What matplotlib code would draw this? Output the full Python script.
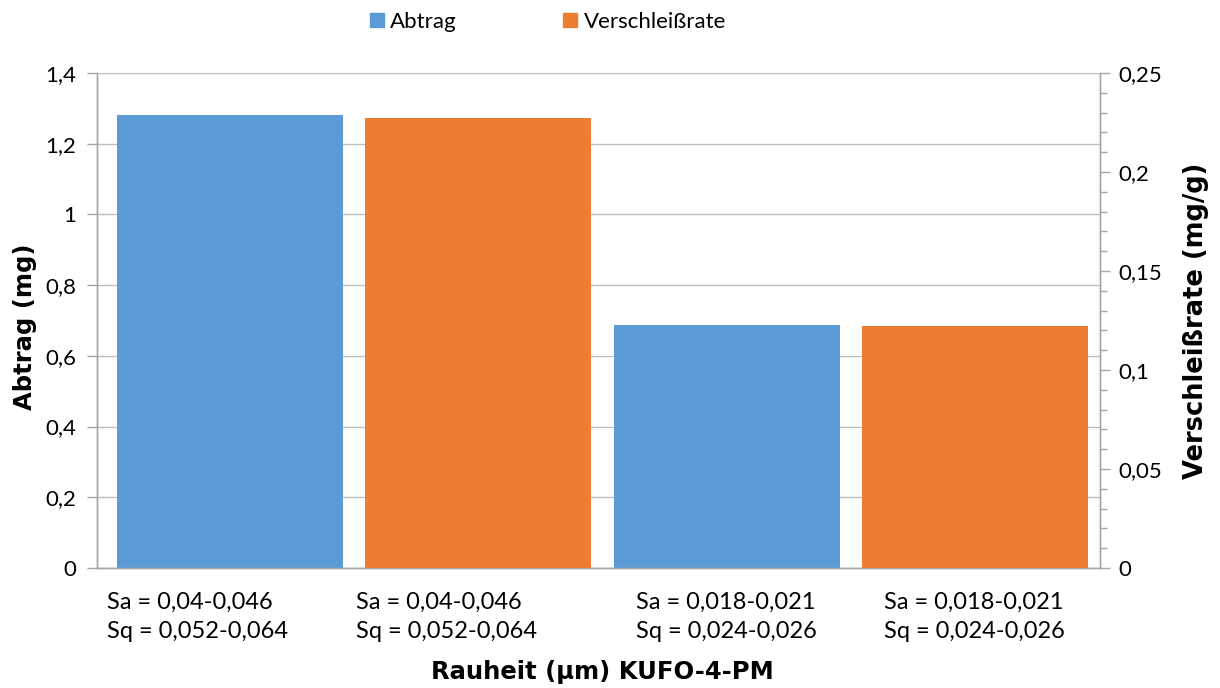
import numpy as np
import matplotlib
matplotlib.use('Agg')
import matplotlib.pyplot as plt
from matplotlib.patches import Patch
from matplotlib.ticker import MultipleLocator, FuncFormatter

plt.rcParams['font.family'] = ['Lato', 'DejaVu Sans']

# data
categories = ['Sa = 0,04-0,046\nSq = 0,052-0,064',
              'Sa = 0,04-0,046\nSq = 0,052-0,064',
              'Sa = 0,018-0,021\nSq = 0,024-0,026',
              'Sa = 0,018-0,021\nSq = 0,024-0,026']
label_shift = [-0.13, -0.13, 0.0, 0.0]  # excel puts the first two blocks a bit left
abtrag_pos = [0, 2]
abtrag = [1.281, 0.687]
rate_pos = [1, 3]
rate = [0.2273, 0.1222]

blue = '#5B9BD5'
orange = '#ED7D31'
grid_c = '#BFBFBF'
axis_c = '#A6A6A6'
fs = 16
bold = dict(family='DejaVu Sans', fontweight='bold')

def comma(v, pos):
    s = ('%.2f' % v).rstrip('0').rstrip('.')
    return s.replace('.', ',')

fig = plt.figure(figsize=(12.2, 6.88), dpi=100)
ax = fig.add_axes([97/1220, 1-568/688, (1100-97)/1220, (568-73)/688])
ax2 = ax.twinx()

ax.bar(abtrag_pos, abtrag, width=0.91, color=blue, zorder=3)
ax2.bar(rate_pos, rate, width=0.91, color=orange, zorder=3)

ax.set_xlim(-0.536, 3.504)
ax.set_ylim(0, 1.4)
ax2.set_ylim(0, 0.25)
ax.yaxis.set_major_locator(MultipleLocator(0.2))
ax.yaxis.set_major_formatter(FuncFormatter(comma))
ax2.yaxis.set_major_locator(MultipleLocator(0.05))
ax2.yaxis.set_minor_locator(MultipleLocator(0.01))
ax2.yaxis.set_major_formatter(FuncFormatter(comma))

# category labels: left-aligned two-line blocks under each bar
ax.set_xticks([])
for i, lab in enumerate(categories):
    ax.text(i + label_shift[i], -0.048, lab, transform=ax.get_xaxis_transform(),
            ha='center', va='top', multialignment='left', fontsize=17, linespacing=1.5)

ax.tick_params(axis='y', labelsize=fs, length=7, color=axis_c, width=1, pad=8)
ax2.tick_params(axis='y', which='major', labelsize=fs, length=7, color=axis_c, width=1, pad=6)
ax2.tick_params(axis='y', which='minor', length=5, color=axis_c, width=1)

ax.grid(axis='y', color=grid_c, linewidth=1, zorder=0)
ax.set_axisbelow(True)
for a in (ax, ax2):
    a.spines['top'].set_visible(False)
    for s in ('left', 'right', 'bottom'):
        a.spines[s].set_color(axis_c)
        a.spines[s].set_linewidth(1)

fig.text(25/1220, 1-327/688, 'Abtrag (mg)', rotation=90, ha='center', va='center',
         fontsize=17.5, **bold)
fig.text(1196/1220, 1-321/688, 'Verschleißrate (mg/g)', rotation=90, ha='center', va='center',
         fontsize=18.5, **bold)
fig.text(602/1220, 1-672/688, 'Rauheit (µm) KUFO-4-PM', ha='center', va='center',
         fontsize=17.5, **bold)

handles = [Patch(color=blue, label='Abtrag'), Patch(color=orange, label='Verschleißrate')]
fig.legend(handles=handles, loc='center', bbox_to_anchor=(548/1220, 1-22/688), ncol=2,
           frameon=False, fontsize=fs, handlelength=0.6, handleheight=0.6,
           handletextpad=0.3, columnspacing=4.8)

fig.savefig('out.png', dpi=100)
